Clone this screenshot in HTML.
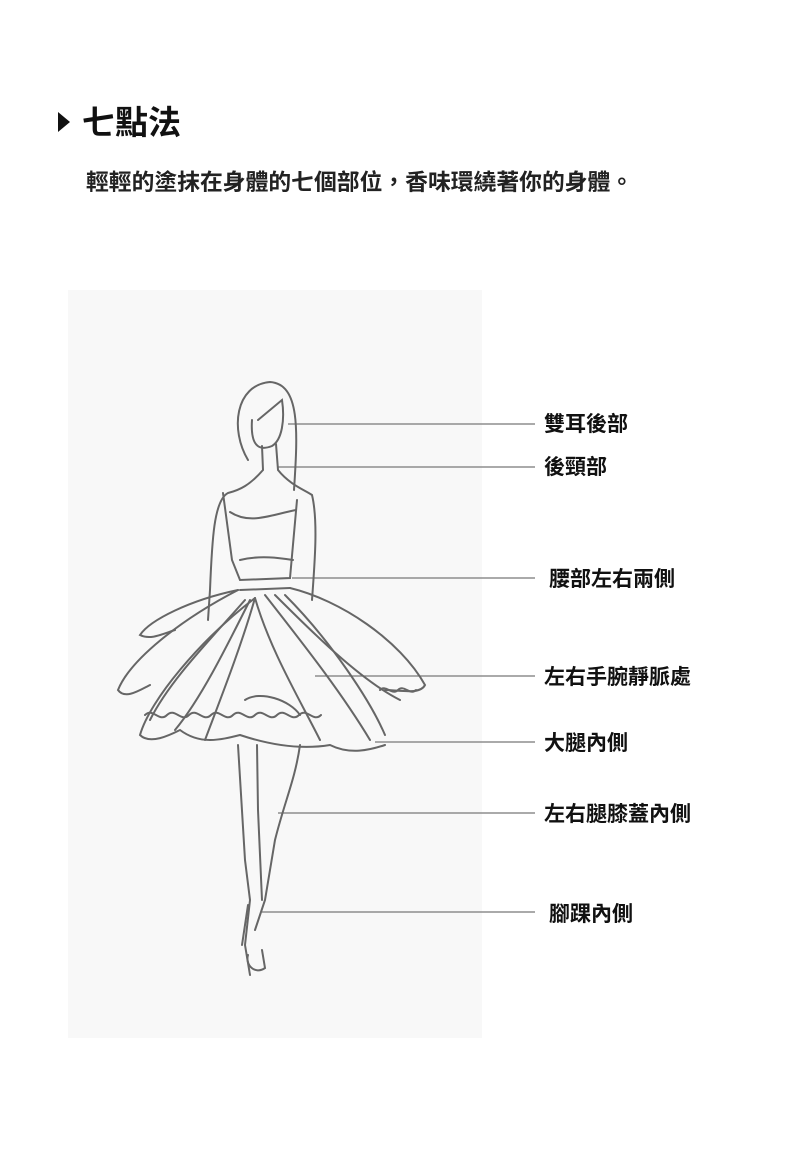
<!DOCTYPE html>
<html><head><meta charset="utf-8"><style>
body{margin:0;background:#fff;width:790px;height:1150px;overflow:hidden;font-family:"Liberation Sans","Noto Sans CJK TC",sans-serif}
.t{position:absolute;font-weight:bold;color:#111;white-space:nowrap;line-height:1}
</style></head><body>
<svg width="790" height="1150" style="position:absolute;left:0;top:0">
<rect x="68" y="290" width="414" height="748" fill="#f8f8f8"/>
<polygon points="58,112 58,132 70,122" fill="#111"/>
<g stroke="#777" stroke-width="1.2">
<line x1="288" y1="424" x2="535" y2="424"/>
<line x1="278" y1="467" x2="535" y2="467"/>
<line x1="292" y1="578" x2="535" y2="578"/>
<line x1="315" y1="676" x2="535" y2="676"/>
<line x1="375" y1="742" x2="535" y2="742"/>
<line x1="278" y1="813" x2="535" y2="813"/>
<line x1="262" y1="912" x2="535" y2="912"/>
</g>
<g fill="none" stroke="#666" stroke-width="2" stroke-linecap="round">
<path d="M248,460 C230,430 235,385 270,382 C300,384 298,430 294,490"/>
<path d="M252,420 C250,450 262,450 272,446 C282,440 285,420 282,400 L258,420"/>
<path d="M262,446 L263,470 C250,485 240,490 228,493 C214,500 212,540 210,590 L208,620"/>
<path d="M276,444 L278,470 C290,485 305,490 312,495 C318,520 315,560 312,600"/>
<path d="M223,493 L232,560 L240,580 L290,578 L297,500"/>
<path d="M230,512 C250,525 270,515 296,510"/>
<path d="M240,560 C260,555 280,558 293,560"/>
<path d="M240,590 L290,588"/>
<path d="M238,590 C190,600 150,620 140,635 C150,640 160,635 175,630"/>
<path d="M290,588 C340,600 400,640 425,685 C420,695 400,690 385,690"/>
<path d="M238,590 C180,620 130,660 118,690 C125,700 140,690 150,685"/>
<path d="M255,598 C200,640 150,700 140,735 C150,745 170,735 180,730 C200,745 220,740 240,735 C270,745 300,750 330,745 C350,755 370,750 385,745"/>
<path d="M255,598 C270,650 300,700 320,740"/>
<path d="M255,598 C240,650 220,700 205,740"/>
<path d="M265,595 C300,640 340,690 370,740"/>
<path d="M250,600 C225,650 200,700 175,730"/>
<path d="M275,595 C310,630 360,680 400,700"/>
<path d="M245,600 C210,640 170,680 150,720"/>
<path d="M285,595 C330,640 370,700 385,735"/>
<path d="M245,700 C260,690 290,700 300,715"/>
<path d="M145,715 c8,-8 14,8 22,0 c8,-8 14,8 22,0 c8,-8 14,8 22,0 c8,-8 14,8 22,0 c8,-8 14,8 22,0 c8,-8 14,8 22,0 c8,-8 14,8 22,0 c8,-8 14,8 22,0"/>
<path d="M380,690 c6,-6 12,6 18,0 c6,-6 12,6 18,0"/>
<path d="M238,745 L245,860 L250,900 L245,945 L250,975"/>
<path d="M300,745 C295,780 285,800 275,840 L265,900 L255,930"/>
<path d="M257,745 L258,810 L262,900"/>
<path d="M248,955 C245,965 255,975 265,968 L262,950"/>
<path d="M248,905 L242,945"/>
</g>
</svg>
<div class="t" style="left:82px;top:106px;font-size:33px">七點法</div>
<div class="t" style="left:86px;top:171px;font-size:22.8px;color:#222">輕輕的塗抹在身體的七個部位，香味環繞著你的身體。</div>
<div class="t" style="left:544px;top:414px;font-size:21px">雙耳後部</div>
<div class="t" style="left:544px;top:457px;font-size:21px">後頸部</div>
<div class="t" style="left:549px;top:569px;font-size:21px">腰部左右兩側</div>
<div class="t" style="left:544px;top:667px;font-size:21px">左右手腕靜脈處</div>
<div class="t" style="left:544px;top:733px;font-size:21px">大腿內側</div>
<div class="t" style="left:544px;top:804px;font-size:21px">左右腿膝蓋內側</div>
<div class="t" style="left:549px;top:904px;font-size:21px">腳踝內側</div>
</body></html>
